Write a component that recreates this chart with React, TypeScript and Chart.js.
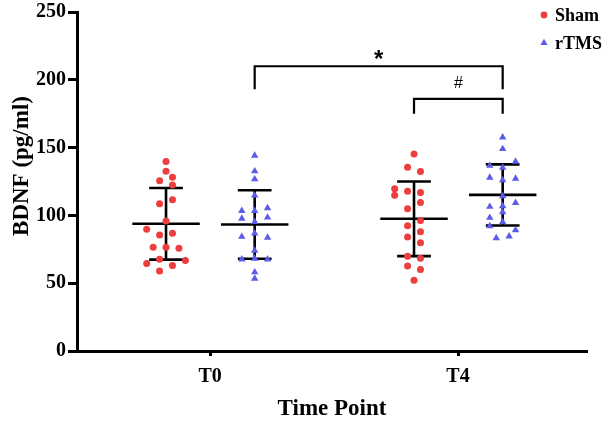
import React, { useEffect, useRef } from 'react';
import { Chart, registerables } from 'chart.js';

Chart.register(...registerables);

// ---- data ----
const timePoints = ['T0', 'T4'];
const groupNames = ['Sham', 'rTMS'];

// individual values (pg/ml) and their jitter column in the swarm
const shamT0 = [139.7, 132.6, 128.2, 125.5, 122.5, 111.5, 108.6, 95.8, 89.7, 86.8, 85.5, 76.5, 76.5, 75.7, 67.6, 66.7, 64.5, 63.0, 59.0];
const shamT0Col = [0, 0, 1, -1, 1, 1, -1, 0, -3, 1, -1, -2, 0, 2, -1, 3, -3, 1, -1];
const rtmsT0 = [144.1, 132.6, 126.7, 114.7, 105.4, 103.4, 103.4, 98.5, 97.6, 95.3, 86.8, 84.3, 83.6, 74.0, 68.1, 67.6, 67.6, 58.1, 53.4];
const rtmsT0Col = [0, 0, 0, 0, 2, -2, 0, 2, -2, 0, 0, -2, 2, 0, 0, -2, 2, 0, 0];
const shamT4 = [145.3, 135.5, 132.4, 119.6, 117.9, 116.9, 114.9, 109.6, 104.9, 96.3, 92.4, 88.0, 84.0, 79.9, 69.9, 68.4, 62.7, 60.1, 52.2];
const shamT4Col = [0, -1, 1, -3, -1, 1, -3, 1, -1, 1, -1, 1, -1, 1, -1, 1, -1, 1, 0];
const rtmsT4 = [157.6, 149.0, 139.7, 136.8, 135.3, 127.9, 127.2, 126.0, 114.2, 109.3, 106.9, 106.4, 102.4, 98.3, 95.1, 92.1, 89.2, 84.6, 83.3];
const rtmsT4Col = [0, 0, 2, -2, 0, -2, 2, 0, 0, 2, 0, -2, 0, -2, 0, -2, 2, 1, -1];

// mean and SD per time point
const shamMean = [93.8, 97.5];
const shamSD = [26.4, 27.5];
const rtmsMean = [93.3, 115.1];
const rtmsSD = [25.3, 22.5];

// y ticks
const yTickMin = 0;
const yTickMax = 250;
const yTickStep = 50;

// significance annotations
const sigLabels = ['*', '#'];
const sigFromGroup = [1, 0];
const sigFromTime = [0, 1];
const sigToGroup = [1, 1];
const sigToTime = [1, 1];
const sigTop = [210, 186];
const sigLegEnd = [193, 175];

// ---- layout helpers ----
const SERIF = '"Liberation Serif", "DejaVu Serif", serif';
const SANS = '"Liberation Sans", Arial, sans-serif';
const RED = 'rgb(236, 62, 62)';
const BLUE = 'rgb(92, 92, 232)';
const GROUP_OFFSET = [-0.355, 0.36];
const COL_STEP = 0.052;
const timeX = (t: number) => t * 2 + 1;
const groupX = (g: number, t: number) => timeX(t) + GROUP_OFFSET[g];

const toPoints = (vals: number[], cols: number[], g: number, t: number) =>
  vals.map((v, i) => ({ x: groupX(g, t) + cols[i] * COL_STEP, y: v }));

const errorBarPlugin = {
  id: 'errorBars',
  beforeDatasetsDraw(chart: any) {
    const { ctx, scales } = chart;
    const xs = scales.x, ys = scales.y;
    ctx.save();
    ctx.strokeStyle = '#000';
    ctx.lineWidth = 2.6;
    const stats = [
      [shamMean, shamSD],
      [rtmsMean, rtmsSD],
    ];
    stats.forEach(([means, sds], g) => {
      means.forEach((m, t) => {
        const cx = xs.getPixelForValue(groupX(g, t));
        const meanHalf = xs.getPixelForValue(groupX(g, t) + 0.272) - cx;
        const capHalf = xs.getPixelForValue(groupX(g, t) + 0.136) - cx;
        const yM = ys.getPixelForValue(m);
        const yU = ys.getPixelForValue(m + sds[t]);
        const yL = ys.getPixelForValue(m - sds[t]);
        ctx.beginPath();
        ctx.moveTo(cx - meanHalf, yM);
        ctx.lineTo(cx + meanHalf, yM);
        ctx.moveTo(cx, yU);
        ctx.lineTo(cx, yL);
        ctx.moveTo(cx - capHalf, yU);
        ctx.lineTo(cx + capHalf, yU);
        ctx.moveTo(cx - capHalf, yL);
        ctx.lineTo(cx + capHalf, yL);
        ctx.stroke();
      });
    });
    ctx.restore();
  },
};

const annotationPlugin = {
  id: 'annotations',
  afterDraw(chart: any) {
    const { ctx, scales } = chart;
    const xs = scales.x, ys = scales.y;
    ctx.save();
    // significance brackets
    ctx.strokeStyle = '#000';
    ctx.lineWidth = 2.2;
    sigLabels.forEach((lab, i) => {
      const x1 = xs.getPixelForValue(groupX(sigFromGroup[i], sigFromTime[i]));
      const x2 = xs.getPixelForValue(groupX(sigToGroup[i], sigToTime[i]));
      const yT = ys.getPixelForValue(sigTop[i]);
      const yE = ys.getPixelForValue(sigLegEnd[i]);
      ctx.beginPath();
      ctx.moveTo(x1, yE);
      ctx.lineTo(x1, yT);
      ctx.lineTo(x2, yT);
      ctx.lineTo(x2, yE);
      ctx.stroke();
      ctx.fillStyle = '#000';
      ctx.textAlign = 'center';
      ctx.textBaseline = 'alphabetic';
      if (lab === '*') {
        ctx.font = `bold 24px ${SANS}`;
        ctx.fillText(lab, (x1 + x2) / 2, yT + 1);
      } else {
        ctx.font = `16px ${SANS}`;
        ctx.fillText(lab, (x1 + x2) / 2, yT - 11);
      }
    });

    // axis titles
    ctx.fillStyle = '#000';
    ctx.font = `bold 23px ${SERIF}`;
    ctx.textAlign = 'center';
    ctx.textBaseline = 'middle';
    ctx.fillText('Time Point', (chart.chartArea.left + chart.chartArea.right) / 2, 409);
    ctx.save();
    ctx.translate(22, 166);
    ctx.rotate(-Math.PI / 2);
    ctx.fillText('BDNF (pg/ml)', 0, 0);
    ctx.restore();

    // legend
    ctx.font = `bold 18px ${SERIF}`;
    ctx.textAlign = 'left';
    ctx.textBaseline = 'middle';
    groupNames.forEach((name, i) => {
      const ly = 15 + i * 28;
      ctx.fillStyle = i === 0 ? RED : BLUE;
      ctx.beginPath();
      if (i === 0) {
        ctx.arc(544, ly, 3.4, 0, Math.PI * 2);
      } else {
        const r = 4.2;
        ctx.moveTo(544, ly - r);
        ctx.lineTo(544 + r * 0.866, ly + r * 0.5);
        ctx.lineTo(544 - r * 0.866, ly + r * 0.5);
        ctx.closePath();
      }
      ctx.fill();
      ctx.fillStyle = '#000';
      ctx.fillText(name, 555, ly + 1);
    });
    ctx.restore();
  },
};

export default function App() {
  const canvasRef = useRef<HTMLCanvasElement | null>(null);

  useEffect(() => {
    if (!canvasRef.current) return;
    const tickFont = { family: SERIF, size: 20, weight: 'bold' as const, lineHeight: 1 };
    const chart = new Chart(canvasRef.current, {
      type: 'scatter',
      data: {
        datasets: [
          {
            label: groupNames[0],
            data: [...toPoints(shamT0, shamT0Col, 0, 0), ...toPoints(shamT4, shamT4Col, 0, 1)],
            backgroundColor: RED,
            borderColor: RED,
            borderWidth: 0,
            pointStyle: 'circle',
            pointRadius: 3.5,
            pointHoverRadius: 3.5,
          },
          {
            label: groupNames[1],
            data: [...toPoints(rtmsT0, rtmsT0Col, 1, 0), ...toPoints(rtmsT4, rtmsT4Col, 1, 1)],
            backgroundColor: BLUE,
            borderColor: BLUE,
            borderWidth: 0,
            pointStyle: 'triangle',
            pointRadius: 4.3,
            pointHoverRadius: 4.3,
          },
        ],
      },
      options: {
        responsive: false,
        animation: false,
        devicePixelRatio: 1,
        layout: { padding: { left: 0, top: 11, right: 26, bottom: 0 } },
        plugins: { legend: { display: false }, tooltip: { enabled: false } },
        scales: {
          x: {
            type: 'linear',
            min: -0.073,
            max: 4.04,
            afterBuildTicks(scale: any) {
              scale.ticks = timePoints.map((_, i) => ({ value: timeX(i) }));
            },
            afterFit(scale: any) {
              scale.height = 70;
            },
            ticks: {
              callback: (_v: any, i: number) => timePoints[i],
              font: tickFont,
              color: '#000',
              padding: 11,
              autoSkip: false,
              maxRotation: 0,
            },
            grid: { drawOnChartArea: false, drawTicks: true, tickLength: 5, tickWidth: 3, tickColor: '#000', color: '#000' },
            border: { display: true, color: '#000', width: 3 },
          },
          y: {
            min: yTickMin,
            max: yTickMax,
            afterFit(scale: any) {
              scale.width = 77;
            },
            ticks: { stepSize: yTickStep, font: tickFont, color: '#000', padding: 2 },
            grid: { drawOnChartArea: false, drawTicks: true, tickLength: 9, tickWidth: 3, tickColor: '#000', color: '#000' },
            border: { display: true, color: '#000', width: 3 },
          },
        },
      },
      plugins: [errorBarPlugin, annotationPlugin],
    } as any);
    return () => chart.destroy();
  }, []);

  return (
    <div style={{ position: 'fixed', left: 0, top: 0, width: 613, height: 421, background: '#fff' }}>
      <canvas ref={canvasRef} width={613} height={421} style={{ display: 'block' }} />
    </div>
  );
}
